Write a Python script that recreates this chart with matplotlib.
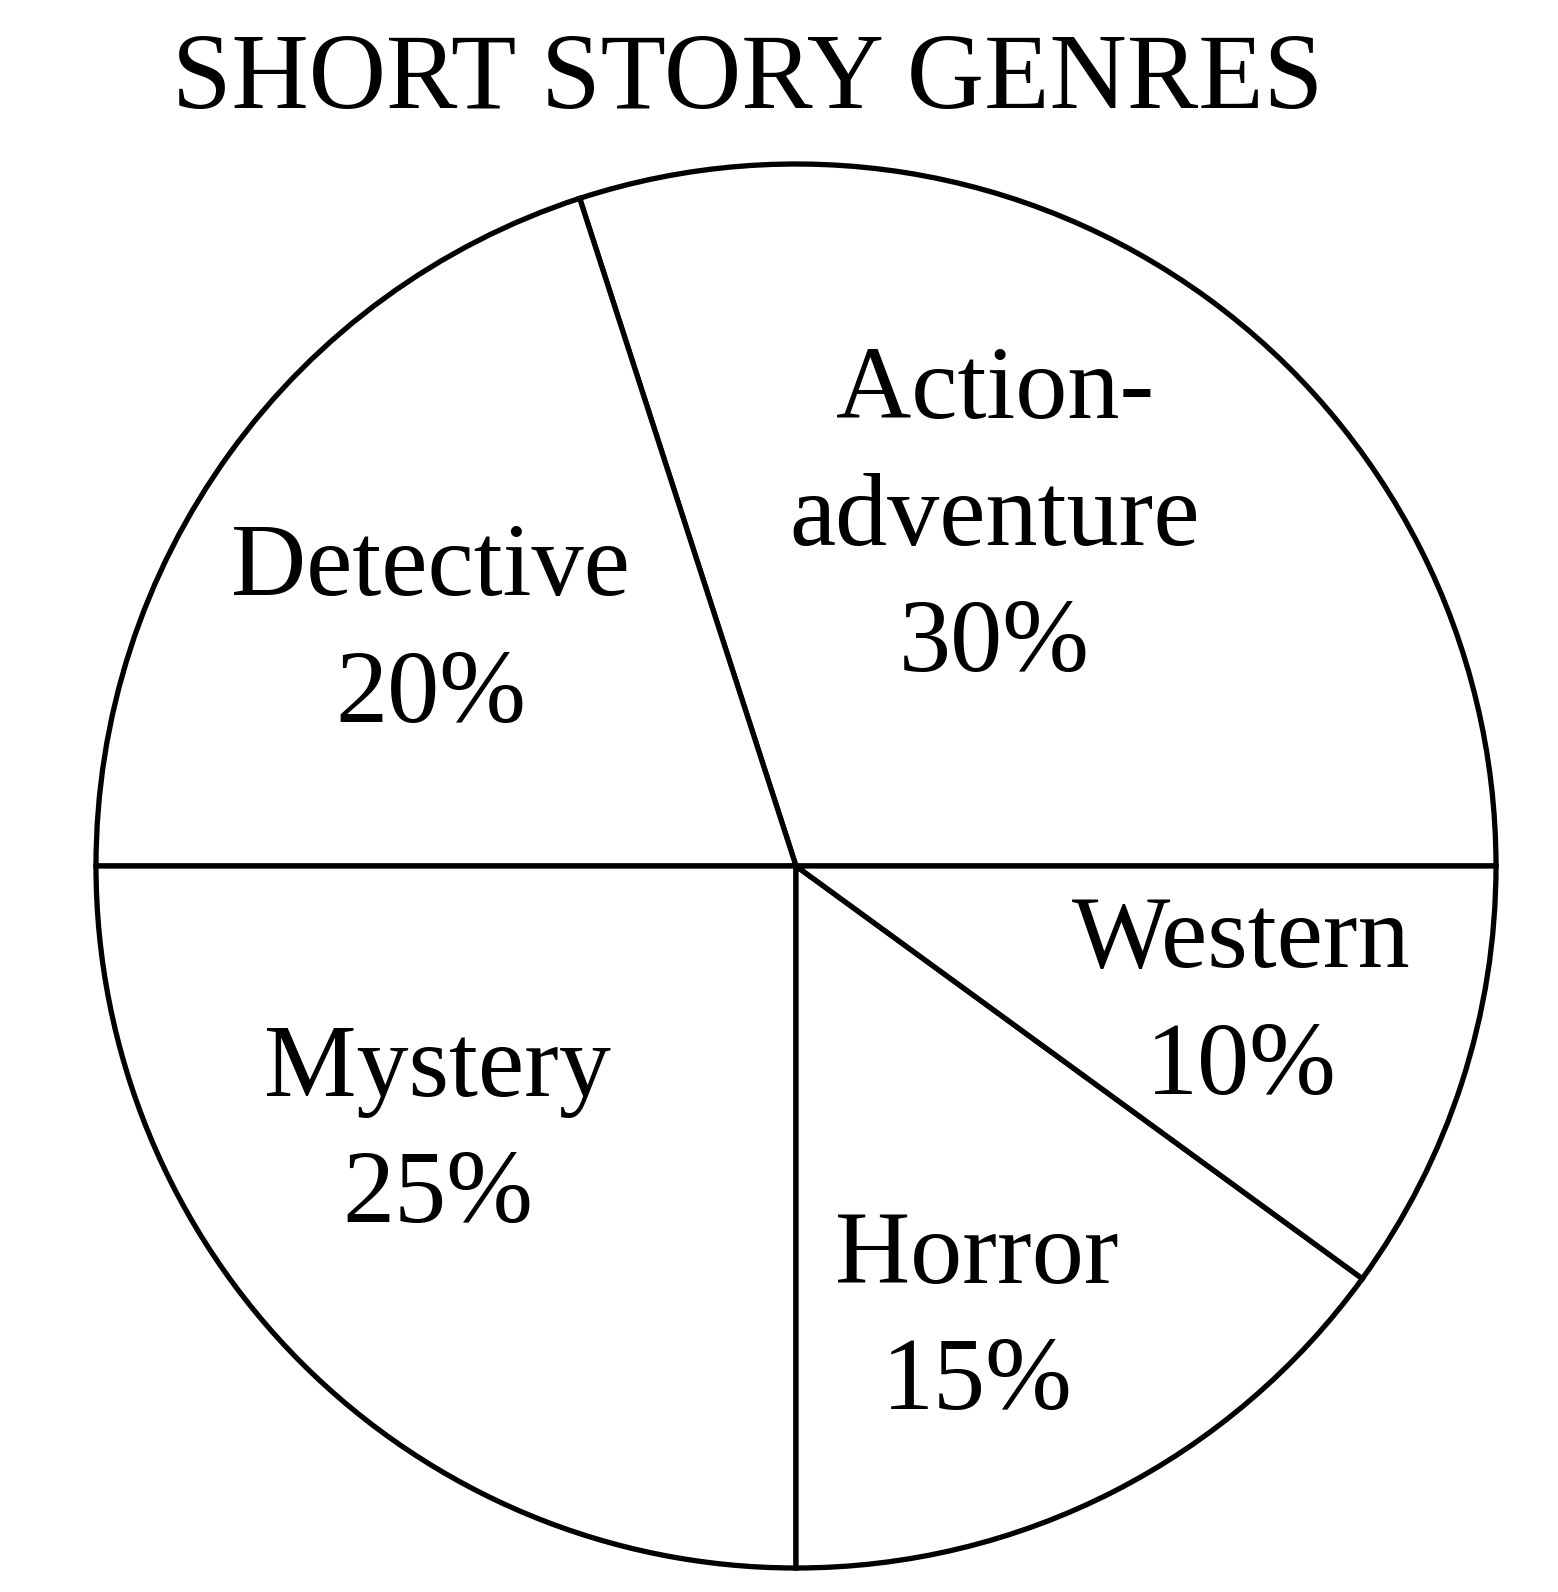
"""Short story genres pie chart."""
import numpy as np
import matplotlib
matplotlib.use("Agg")
import matplotlib.pyplot as plt

plt.rcParams["font.family"] = ["Liberation Serif", "DejaVu Serif"]

# data, counterclockwise from 3 o'clock
genres = ["Action-\nadventure", "Detective", "Mystery", "Horror", "Western"]
shares = [30, 20, 25, 15, 10]

# label placement (polar, in pie radius units)
label_angles = [59.8, 146.0, 216.4, 293.0, 344.0]
label_radii = [0.586, 0.616, 0.622, 0.69, 0.673]
label_shift_x = -0.011
label_shift_y = -0.013

fig = plt.figure(figsize=(15.58, 15.92), dpi=100)
ax = fig.add_axes([96 / 1558, 24 / 1592, 1400 / 1558, 1404 / 1592])

wedges, _ = ax.pie(
    shares,
    startangle=0,
    counterclock=True,
    radius=1.0,
    colors=["white"] * len(shares),
    wedgeprops=dict(edgecolor="black", linewidth=3.8),
)
ax.set_xlim(-1.0, 1.0)
ax.set_ylim(-1.0, 1.0)
ax.set_aspect("auto")
ax.axis("off")

for name, val, ang, r in zip(genres, shares, label_angles, label_radii):
    t = np.deg2rad(ang)
    ax.text(r * np.cos(t) + label_shift_x, r * np.sin(t) + label_shift_y,
            f"{name}\n{val}%",
            ha="center", va="center", fontsize=75, linespacing=1.45,
            color="black")

fig.text(748 / 1558, 1 - 108 / 1592, "SHORT STORY GENRES",
         ha="center", va="baseline", fontsize=77, color="black")

fig.savefig("out.png", dpi=100, facecolor="white")
